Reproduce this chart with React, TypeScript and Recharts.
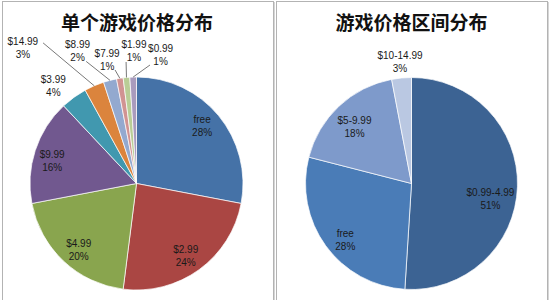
import { PieChart, Pie, Cell } from 'recharts'

const priceNames = ['free', '$2.99', '$4.99', '$9.99', '$3.99', '$14.99', '$8.99', '$7.99', '$1.99', '$0.99']
const priceShares = [28, 24, 20, 16, 4, 3, 2, 1, 1, 1]
const priceColors = ['#4572A7', '#AA4643', '#89A54E', '#71588F', '#4198AF', '#DB843D', '#93A9CF', '#D19392', '#B9CD96', '#A99BBD']

const rangeNames = ['$0.99-4.99', 'free', '$5-9.99', '$10-14.99']
const rangeShares = [51, 28, 18, 3]
const rangeColors = ['#3C6393', '#4A7CB7', '#7E9ACB', '#BAC8E2']

const priceData = priceNames.map((name, i) => ({ name, value: priceShares[i] }))
const rangeData = rangeNames.map((name, i) => ({ name, value: rangeShares[i] }))

// label placement: r = radius factor, s = angle shift (deg, clockwise), lr/ls = leader line end
type Place = { r: number; s: number; lr?: number; ls?: number }
const pricePlace: Place[] = [
  { r: 0.82, s: -1.7 },
  { r: 0.82, s: 1.7 },
  { r: 0.83, s: -2.4 },
  { r: 0.82, s: -3 },
  { r: 1.2, s: -4.6 },
  { r: 1.66, s: -16.6, lr: 1.585, ls: -10.2 },
  { r: 1.36, s: -9.6, lr: 1.24, ls: -8 },
  { r: 1.19, s: -4.4, lr: 1.085, ls: -1.7 },
  { r: 1.24, s: 4.3, lr: 1.145, ls: 0.5 },
  { r: 1.23, s: 12.4, lr: 1.12, ls: 8.3 },
]
const rangePlace: Place[] = [
  { r: 0.76, s: 9.6 },
  { r: 0.82, s: -4.4 },
  { r: 0.76, s: -1.8 },
  { r: 1.15, s: 0 },
]

const RAD = Math.PI / 180
const pt = (cx: number, cy: number, r: number, cw: number) => [
  cx + r * Math.sin(cw * RAD),
  cy - r * Math.cos(cw * RAD),
]

const makeLabel = (places: Place[]) => (props: any) => {
  const { cx, cy, midAngle, outerRadius, index, name, value } = props
  const p = places[index]
  const cw = 90 - midAngle
  const [x, y] = pt(cx, cy, outerRadius * p.r, cw + p.s)
  let line = null
  if (p.lr) {
    const [x0, y0] = pt(cx, cy, outerRadius, cw)
    const [x1, y1] = pt(cx, cy, outerRadius * p.lr, cw + (p.ls || 0))
    line = <path d={`M${x0},${y0}L${x1},${y1}`} stroke="#555" strokeWidth={0.8} fill="none" />
  }
  return (
    <g>
      {line}
      <text
        x={x}
        y={y}
        textAnchor="middle"
        fill="#1a1a1a"
        fontSize={10}
        fontFamily="'Liberation Sans', Arial, sans-serif"
      >
        <tspan x={x} y={y - 6.5} dominantBaseline="central">{name}</tspan>
        <tspan x={x} y={y + 6.5} dominantBaseline="central">{`${value}%`}</tspan>
      </text>
    </g>
  )
}

const panel = (left: number) => ({
  position: 'absolute' as const,
  left,
  top: 1,
  width: 272,
  height: 320,
  boxSizing: 'border-box' as const,
  border: '1px solid #b3b3b3',
  boxShadow: '1px 1px 0 #d6d6d6',
  background: '#fff',
})

const title = (center: number) => ({
  position: 'absolute' as const,
  left: center - 100,
  top: 9,
  width: 200,
  textAlign: 'center' as const,
  fontFamily: "'Noto Sans CJK SC', sans-serif",
  fontWeight: 700,
  fontSize: 19,
  lineHeight: '26px',
  color: '#111',
})

export default function App() {
  return (
    <div style={{ position: 'absolute', left: 0, top: 0, width: 550, height: 300, overflow: 'hidden', background: '#fff' }}>
      <div style={panel(2)} />
      <div style={panel(276)} />
      <div style={{ position: 'absolute', left: 0, top: 0 }}>
        <PieChart width={550} height={300} margin={{ top: 0, right: 0, bottom: 0, left: 0 }}>
          <Pie
            data={priceData}
            dataKey="value"
            nameKey="name"
            cx={136.5}
            cy={183.5}
            outerRadius={106.5}
            startAngle={90}
            endAngle={-270}
            stroke="#fff"
            strokeWidth={0.7}
            label={makeLabel(pricePlace)}
            labelLine={false}
            isAnimationActive={false}
          >
            {priceData.map((d, i) => (
              <Cell key={d.name} fill={priceColors[i]} />
            ))}
          </Pie>
          <Pie
            data={rangeData}
            dataKey="value"
            nameKey="name"
            cx={411.5}
            cy={183.5}
            outerRadius={106}
            startAngle={90}
            endAngle={-270}
            stroke="#fff"
            strokeWidth={0.7}
            label={makeLabel(rangePlace)}
            labelLine={false}
            isAnimationActive={false}
          >
            {rangeData.map((d, i) => (
              <Cell key={d.name} fill={rangeColors[i]} />
            ))}
          </Pie>
        </PieChart>
      </div>
      <div style={title(137)}>单个游戏价格分布</div>
      <div style={title(411.5)}>游戏价格区间分布</div>
    </div>
  )
}
